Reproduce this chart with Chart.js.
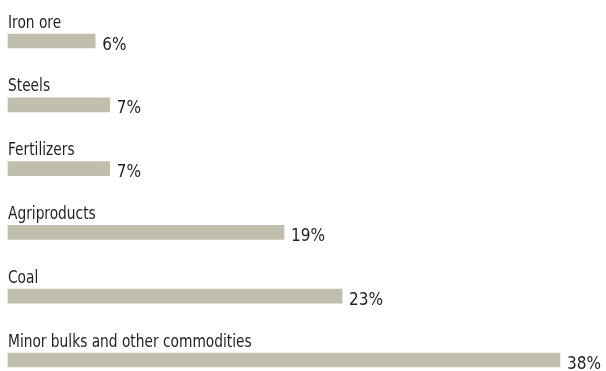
<!DOCTYPE html>
<html>
<head>
<meta charset="utf-8">
<script src="https://cdn.jsdelivr.net/npm/chart.js@4/dist/chart.umd.min.js"></script>
<style>
  html, body { margin: 0; padding: 0; background: #ffffff; }
  #wrap { width: 606px; height: 371px; position: relative; }
</style>
</head>
<body>
<div id="wrap"><canvas id="chart"></canvas></div>
<script>
// Commodity shares (percent)
const categories = [
  "Iron ore",
  "Steels",
  "Fertilizers",
  "Agriproducts",
  "Coal",
  "Minor bulks and other commodities"
];
const shares = [6, 7, 7, 19, 23, 38];

const FONT = '"DejaVu Sans Condensed", "Liberation Sans Narrow", "Liberation Sans", sans-serif';
const TEXT_COLOR = '#231f20';
const BAR_COLOR = '#c0bfad';
const NAME_SQUEEZE = 0.9;   // slightly narrower lettering for category names
const VALUE_SQUEEZE = 1.0;

// Draws the category name above each bar and the percentage at its end
const barLabels = {
  id: 'barLabels',
  afterDatasetsDraw(chart) {
    const ctx = chart.ctx;
    const meta = chart.getDatasetMeta(0);
    const area = chart.chartArea;
    const text = (str, x, y, sx) => {
      ctx.save();
      ctx.translate(x, y);
      ctx.scale(sx, 1);
      ctx.fillText(str, 0, 0);
      ctx.restore();
    };
    ctx.save();
    ctx.fillStyle = TEXT_COLOR;
    ctx.font = '17px ' + FONT;
    ctx.textBaseline = 'alphabetic';
    ctx.textAlign = 'left';
    meta.data.forEach((bar, i) => {
      text(categories[i], area.left, bar.y - 13.5, NAME_SQUEEZE);
      text(shares[i] + '%', bar.x + 7, bar.y + 8.5, VALUE_SQUEEZE);
    });
    ctx.restore();
  }
};

new Chart(document.getElementById('chart'), {
  type: 'bar',
  data: {
    labels: categories,
    datasets: [{
      data: shares,
      backgroundColor: BAR_COLOR,
      borderWidth: 0,
      barThickness: 14,
      clip: false
    }]
  },
  options: {
    indexAxis: 'y',
    responsive: true,
    maintainAspectRatio: false,
    animation: false,
    layout: { padding: { left: 8, right: 17, top: 41, bottom: 11 } },
    plugins: {
      legend: { display: false },
      tooltip: { enabled: false }
    },
    scales: {
      x: { display: false, min: 0, max: 40 },
      y: { display: false, offset: false }
    }
  },
  plugins: [barLabels]
});
</script>
</body>
</html>
